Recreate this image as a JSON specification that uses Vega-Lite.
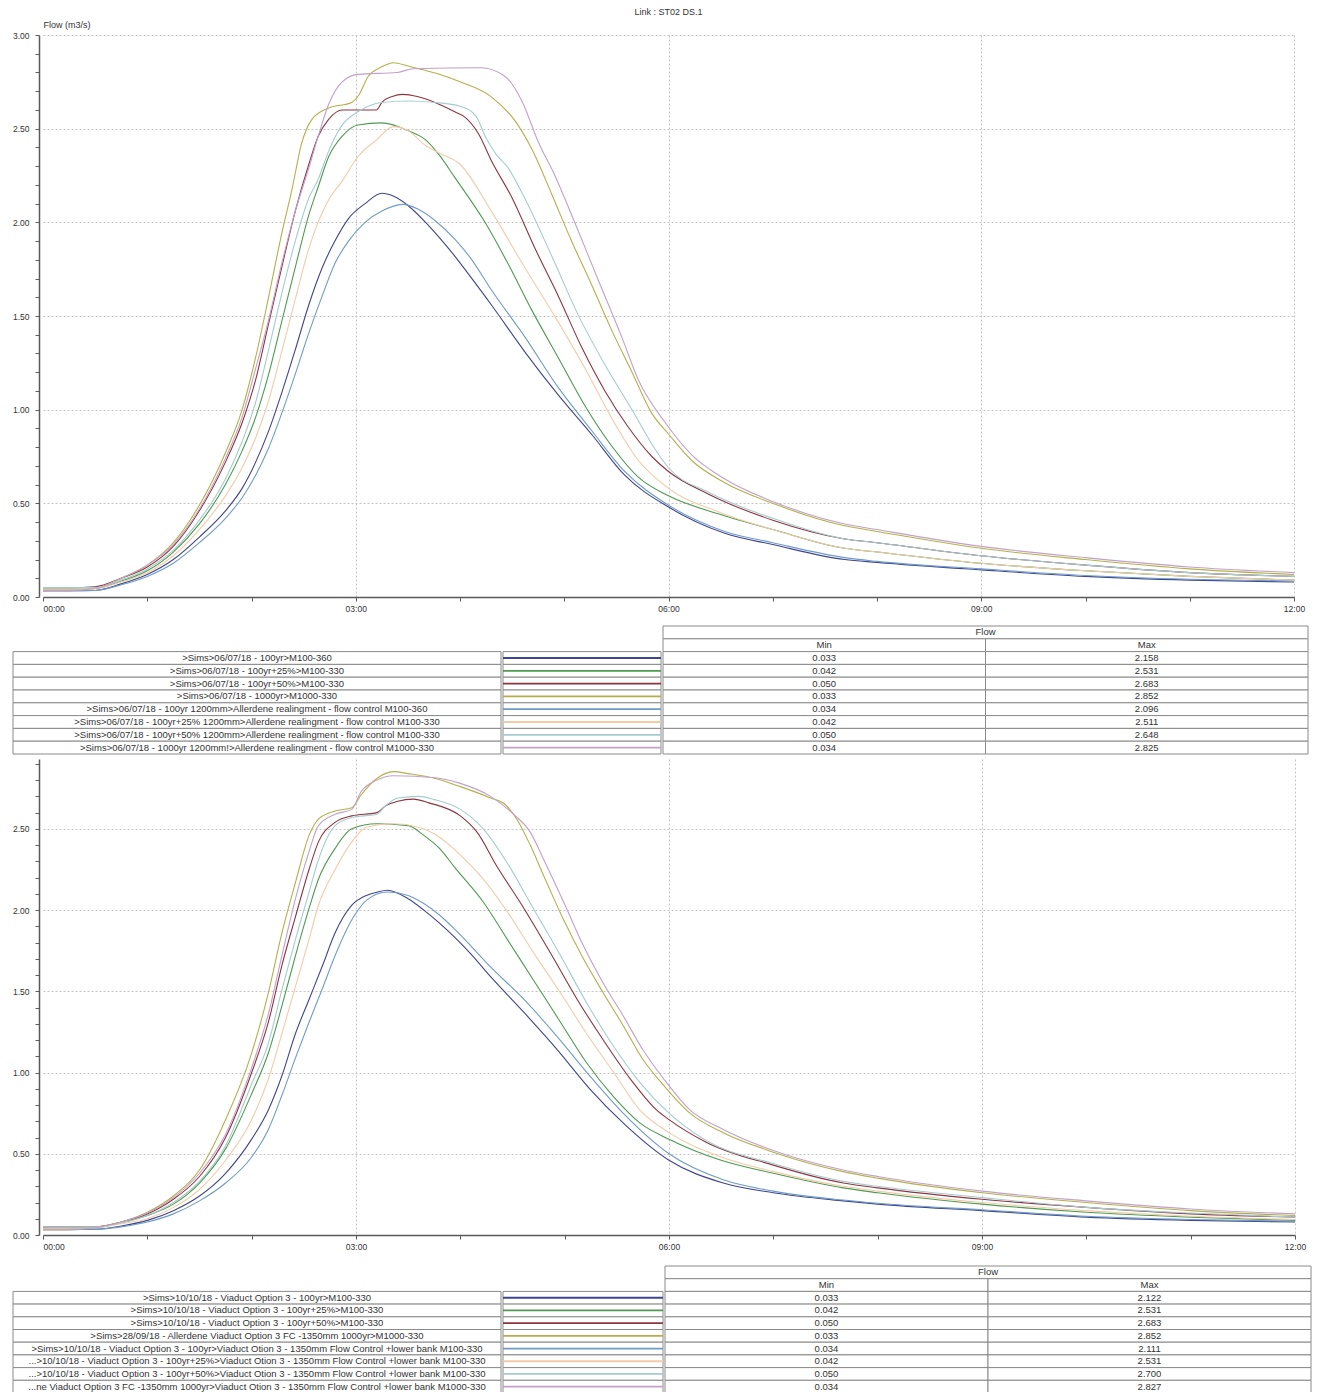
{
"$schema":"https://vega.github.io/schema/vega-lite/v6.json",
"background":"white",
"padding":{"left":12,"top":8,"right":0,"bottom":0},
"config":{
 "font":"Liberation Sans",
 "view":{"stroke":null},
 "axis":{"labelFont":"Liberation Sans","labelFontSize":8.5,"labelColor":"#333","domainColor":"#5a5a5a","domainWidth":1.5,"tickColor":"#5a5a5a","tickWidth":1,"tickSize":4,"gridColor":"#c4c4c4","gridDash":[2,2],"gridWidth":1,"titleFont":"Liberation Sans","titleFontSize":9,"titleFontWeight":"normal","titleColor":"#333","labelOverlap":false,"labelBound":false,"labelFlush":false},
 "title":{"font":"Liberation Sans","fontSize":9,"fontWeight":"normal","color":"#333","offset":3},
 "text":{"font":"Liberation Sans","fontSize":9.5,"color":"#333"}
},
"datasets":{
"top":[
{"s":1,"h":0,"v":0.033},{"s":1,"h":0.25,"v":0.033},{"s":1,"h":0.5,"v":0.035},{"s":1,"h":0.75,"v":0.07},{"s":1,"h":1,"v":0.12},{"s":1,"h":1.25,"v":0.2},{"s":1,"h":1.5,"v":0.32},{"s":1,"h":1.75,"v":0.46},{"s":1,"h":1.91,"v":0.58},{"s":1,"h":2.04,"v":0.72},{"s":1,"h":2.16,"v":0.88},{"s":1,"h":2.29,"v":1.09},{"s":1,"h":2.42,"v":1.32},{"s":1,"h":2.55,"v":1.56},{"s":1,"h":2.68,"v":1.76},{"s":1,"h":2.8,"v":1.9},{"s":1,"h":2.93,"v":2.02},{"s":1,"h":3.09,"v":2.1},{"s":1,"h":3.25,"v":2.155},{"s":1,"h":3.36,"v":2.14},{"s":1,"h":3.5,"v":2.09},{"s":1,"h":3.67,"v":2.0},{"s":1,"h":3.8,"v":1.92},{"s":1,"h":3.95,"v":1.82},{"s":1,"h":4.1,"v":1.71},{"s":1,"h":4.3,"v":1.56},{"s":1,"h":4.62,"v":1.31},{"s":1,"h":4.94,"v":1.08},{"s":1,"h":5.26,"v":0.87},{"s":1,"h":5.58,"v":0.65},{"s":1,"h":6,"v":0.48},{"s":1,"h":6.54,"v":0.34},{"s":1,"h":7,"v":0.28},{"s":1,"h":7.69,"v":0.2},{"s":1,"h":8,"v":0.185},{"s":1,"h":9,"v":0.145},{"s":1,"h":10,"v":0.11},{"s":1,"h":11,"v":0.09},{"s":1,"h":12,"v":0.08},
{"s":2,"h":0,"v":0.042},{"s":2,"h":0.25,"v":0.042},{"s":2,"h":0.5,"v":0.045},{"s":2,"h":0.75,"v":0.085},{"s":2,"h":1,"v":0.14},{"s":2,"h":1.25,"v":0.24},{"s":2,"h":1.5,"v":0.39},{"s":2,"h":1.75,"v":0.6},{"s":2,"h":1.91,"v":0.78},{"s":2,"h":2.04,"v":0.96},{"s":2,"h":2.16,"v":1.18},{"s":2,"h":2.29,"v":1.47},{"s":2,"h":2.42,"v":1.76},{"s":2,"h":2.55,"v":2.04},{"s":2,"h":2.64,"v":2.19},{"s":2,"h":2.74,"v":2.35},{"s":2,"h":2.87,"v":2.46},{"s":2,"h":3.02,"v":2.52},{"s":2,"h":3.25,"v":2.531},{"s":2,"h":3.5,"v":2.49},{"s":2,"h":3.67,"v":2.44},{"s":2,"h":3.8,"v":2.36},{"s":2,"h":3.95,"v":2.24},{"s":2,"h":4.24,"v":2.0},{"s":2,"h":4.46,"v":1.78},{"s":2,"h":4.69,"v":1.53},{"s":2,"h":4.94,"v":1.28},{"s":2,"h":5.2,"v":1.02},{"s":2,"h":5.45,"v":0.81},{"s":2,"h":5.71,"v":0.64},{"s":2,"h":6,"v":0.54},{"s":2,"h":6.5,"v":0.44},{"s":2,"h":7,"v":0.36},{"s":2,"h":7.69,"v":0.26},{"s":2,"h":8,"v":0.24},{"s":2,"h":9,"v":0.18},{"s":2,"h":10,"v":0.14},{"s":2,"h":11,"v":0.11},{"s":2,"h":12,"v":0.09},
{"s":3,"h":0,"v":0.05},{"s":3,"h":0.25,"v":0.05},{"s":3,"h":0.5,"v":0.055},{"s":3,"h":0.75,"v":0.1},{"s":3,"h":1,"v":0.16},{"s":3,"h":1.25,"v":0.27},{"s":3,"h":1.5,"v":0.46},{"s":3,"h":1.75,"v":0.72},{"s":3,"h":1.91,"v":0.93},{"s":3,"h":2.04,"v":1.16},{"s":3,"h":2.16,"v":1.45},{"s":3,"h":2.29,"v":1.76},{"s":3,"h":2.42,"v":2.06},{"s":3,"h":2.55,"v":2.31},{"s":3,"h":2.64,"v":2.46},{"s":3,"h":2.74,"v":2.55},{"s":3,"h":2.87,"v":2.6},{"s":3,"h":3.2,"v":2.6},{"s":3,"h":3.25,"v":2.64},{"s":3,"h":3.35,"v":2.672},{"s":3,"h":3.45,"v":2.683},{"s":3,"h":3.6,"v":2.67},{"s":3,"h":3.76,"v":2.64},{"s":3,"h":3.95,"v":2.59},{"s":3,"h":4.05,"v":2.56},{"s":3,"h":4.18,"v":2.47},{"s":3,"h":4.3,"v":2.33},{"s":3,"h":4.5,"v":2.13},{"s":3,"h":4.72,"v":1.86},{"s":3,"h":4.94,"v":1.61},{"s":3,"h":5.17,"v":1.33},{"s":3,"h":5.39,"v":1.1},{"s":3,"h":5.61,"v":0.91},{"s":3,"h":5.84,"v":0.75},{"s":3,"h":6,"v":0.67},{"s":3,"h":6.38,"v":0.55},{"s":3,"h":7,"v":0.41},{"s":3,"h":7.69,"v":0.31},{"s":3,"h":8,"v":0.29},{"s":3,"h":9,"v":0.22},{"s":3,"h":10,"v":0.17},{"s":3,"h":11,"v":0.13},{"s":3,"h":12,"v":0.11},
{"s":4,"h":0,"v":0.033},{"s":4,"h":0.25,"v":0.033},{"s":4,"h":0.5,"v":0.045},{"s":4,"h":0.75,"v":0.1},{"s":4,"h":1,"v":0.17},{"s":4,"h":1.25,"v":0.29},{"s":4,"h":1.5,"v":0.49},{"s":4,"h":1.75,"v":0.77},{"s":4,"h":1.91,"v":1.0},{"s":4,"h":2.04,"v":1.28},{"s":4,"h":2.16,"v":1.59},{"s":4,"h":2.29,"v":1.94},{"s":4,"h":2.39,"v":2.18},{"s":4,"h":2.48,"v":2.42},{"s":4,"h":2.58,"v":2.55},{"s":4,"h":2.74,"v":2.61},{"s":4,"h":2.96,"v":2.64},{"s":4,"h":3.03,"v":2.68},{"s":4,"h":3.12,"v":2.78},{"s":4,"h":3.25,"v":2.83},{"s":4,"h":3.36,"v":2.852},{"s":4,"h":3.5,"v":2.835},{"s":4,"h":3.67,"v":2.81},{"s":4,"h":3.8,"v":2.79},{"s":4,"h":4,"v":2.75},{"s":4,"h":4.3,"v":2.67},{"s":4,"h":4.53,"v":2.54},{"s":4,"h":4.69,"v":2.39},{"s":4,"h":4.88,"v":2.15},{"s":4,"h":5.07,"v":1.9},{"s":4,"h":5.26,"v":1.67},{"s":4,"h":5.45,"v":1.43},{"s":4,"h":5.65,"v":1.2},{"s":4,"h":5.84,"v":0.98},{"s":4,"h":6,"v":0.87},{"s":4,"h":6.22,"v":0.73},{"s":4,"h":6.54,"v":0.61},{"s":4,"h":7,"v":0.5},{"s":4,"h":7.69,"v":0.38},{"s":4,"h":8,"v":0.35},{"s":4,"h":9,"v":0.26},{"s":4,"h":10,"v":0.2},{"s":4,"h":11,"v":0.15},{"s":4,"h":12,"v":0.12},
{"s":5,"h":0,"v":0.034},{"s":5,"h":0.25,"v":0.034},{"s":5,"h":0.5,"v":0.035},{"s":5,"h":0.75,"v":0.065},{"s":5,"h":1,"v":0.11},{"s":5,"h":1.25,"v":0.18},{"s":5,"h":1.5,"v":0.29},{"s":5,"h":1.75,"v":0.42},{"s":5,"h":1.91,"v":0.53},{"s":5,"h":2.04,"v":0.65},{"s":5,"h":2.16,"v":0.79},{"s":5,"h":2.29,"v":0.98},{"s":5,"h":2.42,"v":1.19},{"s":5,"h":2.55,"v":1.41},{"s":5,"h":2.68,"v":1.61},{"s":5,"h":2.8,"v":1.78},{"s":5,"h":2.93,"v":1.9},{"s":5,"h":3.09,"v":2.0},{"s":5,"h":3.25,"v":2.06},{"s":5,"h":3.45,"v":2.096},{"s":5,"h":3.6,"v":2.07},{"s":5,"h":3.76,"v":2.01},{"s":5,"h":3.95,"v":1.91},{"s":5,"h":4.1,"v":1.81},{"s":5,"h":4.3,"v":1.64},{"s":5,"h":4.62,"v":1.39},{"s":5,"h":4.94,"v":1.12},{"s":5,"h":5.26,"v":0.89},{"s":5,"h":5.58,"v":0.67},{"s":5,"h":6,"v":0.49},{"s":5,"h":6.54,"v":0.35},{"s":5,"h":7,"v":0.29},{"s":5,"h":7.69,"v":0.21},{"s":5,"h":8,"v":0.19},{"s":5,"h":9,"v":0.15},{"s":5,"h":10,"v":0.115},{"s":5,"h":11,"v":0.095},{"s":5,"h":12,"v":0.085},
{"s":6,"h":0,"v":0.042},{"s":6,"h":0.25,"v":0.042},{"s":6,"h":0.5,"v":0.045},{"s":6,"h":0.75,"v":0.08},{"s":6,"h":1,"v":0.13},{"s":6,"h":1.25,"v":0.22},{"s":6,"h":1.5,"v":0.36},{"s":6,"h":1.75,"v":0.54},{"s":6,"h":1.91,"v":0.69},{"s":6,"h":2.04,"v":0.85},{"s":6,"h":2.16,"v":1.04},{"s":6,"h":2.29,"v":1.31},{"s":6,"h":2.42,"v":1.59},{"s":6,"h":2.55,"v":1.86},{"s":6,"h":2.74,"v":2.12},{"s":6,"h":2.87,"v":2.22},{"s":6,"h":3.02,"v":2.35},{"s":6,"h":3.2,"v":2.44},{"s":6,"h":3.36,"v":2.511},{"s":6,"h":3.5,"v":2.49},{"s":6,"h":3.67,"v":2.41},{"s":6,"h":3.8,"v":2.37},{"s":6,"h":4,"v":2.31},{"s":6,"h":4.3,"v":2.06},{"s":6,"h":4.62,"v":1.76},{"s":6,"h":4.94,"v":1.47},{"s":6,"h":5.2,"v":1.22},{"s":6,"h":5.45,"v":0.96},{"s":6,"h":5.71,"v":0.73},{"s":6,"h":6,"v":0.58},{"s":6,"h":6.5,"v":0.45},{"s":6,"h":7,"v":0.36},{"s":6,"h":7.69,"v":0.26},{"s":6,"h":8,"v":0.24},{"s":6,"h":9,"v":0.18},{"s":6,"h":10,"v":0.14},{"s":6,"h":11,"v":0.11},{"s":6,"h":12,"v":0.09},
{"s":7,"h":0,"v":0.05},{"s":7,"h":0.25,"v":0.05},{"s":7,"h":0.5,"v":0.05},{"s":7,"h":0.75,"v":0.09},{"s":7,"h":1,"v":0.15},{"s":7,"h":1.25,"v":0.25},{"s":7,"h":1.5,"v":0.41},{"s":7,"h":1.75,"v":0.63},{"s":7,"h":1.91,"v":0.83},{"s":7,"h":2.04,"v":1.04},{"s":7,"h":2.16,"v":1.31},{"s":7,"h":2.29,"v":1.62},{"s":7,"h":2.42,"v":1.9},{"s":7,"h":2.55,"v":2.13},{"s":7,"h":2.64,"v":2.23},{"s":7,"h":2.74,"v":2.38},{"s":7,"h":2.87,"v":2.52},{"s":7,"h":3.02,"v":2.59},{"s":7,"h":3.25,"v":2.64},{"s":7,"h":3.5,"v":2.648},{"s":7,"h":3.76,"v":2.64},{"s":7,"h":4,"v":2.62},{"s":7,"h":4.15,"v":2.57},{"s":7,"h":4.25,"v":2.45},{"s":7,"h":4.35,"v":2.36},{"s":7,"h":4.45,"v":2.3},{"s":7,"h":4.62,"v":2.13},{"s":7,"h":4.88,"v":1.82},{"s":7,"h":5.13,"v":1.51},{"s":7,"h":5.39,"v":1.24},{"s":7,"h":5.65,"v":1.0},{"s":7,"h":5.87,"v":0.79},{"s":7,"h":6,"v":0.69},{"s":7,"h":6.38,"v":0.56},{"s":7,"h":7,"v":0.42},{"s":7,"h":7.69,"v":0.31},{"s":7,"h":8,"v":0.29},{"s":7,"h":9,"v":0.22},{"s":7,"h":10,"v":0.17},{"s":7,"h":11,"v":0.13},{"s":7,"h":12,"v":0.11},
{"s":8,"h":0,"v":0.034},{"s":8,"h":0.25,"v":0.034},{"s":8,"h":0.5,"v":0.045},{"s":8,"h":0.75,"v":0.1},{"s":8,"h":1,"v":0.17},{"s":8,"h":1.25,"v":0.28},{"s":8,"h":1.5,"v":0.47},{"s":8,"h":1.75,"v":0.74},{"s":8,"h":1.91,"v":0.96},{"s":8,"h":2.04,"v":1.22},{"s":8,"h":2.16,"v":1.47},{"s":8,"h":2.29,"v":1.78},{"s":8,"h":2.42,"v":2.06},{"s":8,"h":2.55,"v":2.29},{"s":8,"h":2.64,"v":2.46},{"s":8,"h":2.74,"v":2.63},{"s":8,"h":2.87,"v":2.75},{"s":8,"h":3.02,"v":2.79},{"s":8,"h":3.4,"v":2.8},{"s":8,"h":3.55,"v":2.82},{"s":8,"h":4.2,"v":2.825},{"s":8,"h":4.43,"v":2.78},{"s":8,"h":4.6,"v":2.64},{"s":8,"h":4.75,"v":2.43},{"s":8,"h":4.91,"v":2.25},{"s":8,"h":5.1,"v":2.0},{"s":8,"h":5.32,"v":1.7},{"s":8,"h":5.55,"v":1.39},{"s":8,"h":5.71,"v":1.16},{"s":8,"h":5.97,"v":0.93},{"s":8,"h":6.22,"v":0.76},{"s":8,"h":6.54,"v":0.63},{"s":8,"h":7,"v":0.51},{"s":8,"h":7.69,"v":0.39},{"s":8,"h":8,"v":0.36},{"s":8,"h":9,"v":0.27},{"s":8,"h":10,"v":0.21},{"s":8,"h":11,"v":0.16},{"s":8,"h":12,"v":0.13}
],
"bot":[
{"s":1,"h":0,"v":0.033},{"s":1,"h":0.25,"v":0.033},{"s":1,"h":0.5,"v":0.035},{"s":1,"h":0.75,"v":0.055},{"s":1,"h":1,"v":0.09},{"s":1,"h":1.25,"v":0.15},{"s":1,"h":1.5,"v":0.24},{"s":1,"h":1.75,"v":0.38},{"s":1,"h":2,"v":0.59},{"s":1,"h":2.16,"v":0.77},{"s":1,"h":2.29,"v":0.98},{"s":1,"h":2.42,"v":1.24},{"s":1,"h":2.55,"v":1.45},{"s":1,"h":2.68,"v":1.66},{"s":1,"h":2.8,"v":1.86},{"s":1,"h":2.96,"v":2.03},{"s":1,"h":3.1,"v":2.09},{"s":1,"h":3.2,"v":2.11},{"s":1,"h":3.3,"v":2.122},{"s":1,"h":3.5,"v":2.07},{"s":1,"h":3.65,"v":2.0},{"s":1,"h":3.8,"v":1.92},{"s":1,"h":3.95,"v":1.83},{"s":1,"h":4.1,"v":1.73},{"s":1,"h":4.29,"v":1.59},{"s":1,"h":4.61,"v":1.37},{"s":1,"h":4.93,"v":1.14},{"s":1,"h":5.24,"v":0.9},{"s":1,"h":5.56,"v":0.69},{"s":1,"h":6,"v":0.46},{"s":1,"h":6.52,"v":0.32},{"s":1,"h":7,"v":0.26},{"s":1,"h":7.67,"v":0.21},{"s":1,"h":8,"v":0.19},{"s":1,"h":9,"v":0.15},{"s":1,"h":10,"v":0.11},{"s":1,"h":11,"v":0.09},{"s":1,"h":12,"v":0.08},
{"s":2,"h":0,"v":0.042},{"s":2,"h":0.25,"v":0.042},{"s":2,"h":0.5,"v":0.045},{"s":2,"h":0.75,"v":0.075},{"s":2,"h":1,"v":0.12},{"s":2,"h":1.25,"v":0.19},{"s":2,"h":1.5,"v":0.32},{"s":2,"h":1.75,"v":0.53},{"s":2,"h":2,"v":0.87},{"s":2,"h":2.16,"v":1.12},{"s":2,"h":2.29,"v":1.41},{"s":2,"h":2.42,"v":1.72},{"s":2,"h":2.55,"v":2.01},{"s":2,"h":2.64,"v":2.19},{"s":2,"h":2.8,"v":2.38},{"s":2,"h":2.96,"v":2.5},{"s":2,"h":3.2,"v":2.531},{"s":2,"h":3.5,"v":2.52},{"s":2,"h":3.65,"v":2.46},{"s":2,"h":3.8,"v":2.38},{"s":2,"h":3.95,"v":2.26},{"s":2,"h":4.22,"v":2.05},{"s":2,"h":4.45,"v":1.82},{"s":2,"h":4.7,"v":1.57},{"s":2,"h":4.96,"v":1.31},{"s":2,"h":5.21,"v":1.06},{"s":2,"h":5.47,"v":0.85},{"s":2,"h":5.72,"v":0.69},{"s":2,"h":6,"v":0.59},{"s":2,"h":6.5,"v":0.46},{"s":2,"h":7,"v":0.38},{"s":2,"h":7.67,"v":0.29},{"s":2,"h":8,"v":0.26},{"s":2,"h":9,"v":0.19},{"s":2,"h":10,"v":0.14},{"s":2,"h":11,"v":0.11},{"s":2,"h":12,"v":0.09},
{"s":3,"h":0,"v":0.05},{"s":3,"h":0.25,"v":0.05},{"s":3,"h":0.5,"v":0.05},{"s":3,"h":0.75,"v":0.08},{"s":3,"h":1,"v":0.13},{"s":3,"h":1.25,"v":0.22},{"s":3,"h":1.5,"v":0.36},{"s":3,"h":1.75,"v":0.6},{"s":3,"h":2,"v":1.0},{"s":3,"h":2.16,"v":1.31},{"s":3,"h":2.29,"v":1.66},{"s":3,"h":2.42,"v":1.96},{"s":3,"h":2.55,"v":2.25},{"s":3,"h":2.64,"v":2.42},{"s":3,"h":2.8,"v":2.54},{"s":3,"h":2.96,"v":2.58},{"s":3,"h":3.2,"v":2.6},{"s":3,"h":3.28,"v":2.64},{"s":3,"h":3.4,"v":2.67},{"s":3,"h":3.55,"v":2.683},{"s":3,"h":3.7,"v":2.66},{"s":3,"h":4,"v":2.58},{"s":3,"h":4.16,"v":2.48},{"s":3,"h":4.35,"v":2.27},{"s":3,"h":4.61,"v":2.01},{"s":3,"h":4.86,"v":1.74},{"s":3,"h":5.12,"v":1.45},{"s":3,"h":5.37,"v":1.2},{"s":3,"h":5.63,"v":0.96},{"s":3,"h":5.88,"v":0.77},{"s":3,"h":6,"v":0.71},{"s":3,"h":6.36,"v":0.57},{"s":3,"h":7,"v":0.43},{"s":3,"h":7.67,"v":0.32},{"s":3,"h":8,"v":0.29},{"s":3,"h":9,"v":0.22},{"s":3,"h":10,"v":0.17},{"s":3,"h":11,"v":0.13},{"s":3,"h":12,"v":0.11},
{"s":4,"h":0,"v":0.033},{"s":4,"h":0.25,"v":0.033},{"s":4,"h":0.5,"v":0.045},{"s":4,"h":0.75,"v":0.08},{"s":4,"h":1,"v":0.14},{"s":4,"h":1.25,"v":0.24},{"s":4,"h":1.5,"v":0.4},{"s":4,"h":1.75,"v":0.71},{"s":4,"h":2,"v":1.12},{"s":4,"h":2.16,"v":1.49},{"s":4,"h":2.29,"v":1.86},{"s":4,"h":2.42,"v":2.17},{"s":4,"h":2.55,"v":2.46},{"s":4,"h":2.64,"v":2.56},{"s":4,"h":2.8,"v":2.61},{"s":4,"h":2.96,"v":2.63},{"s":4,"h":3.05,"v":2.71},{"s":4,"h":3.2,"v":2.81},{"s":4,"h":3.36,"v":2.852},{"s":4,"h":3.5,"v":2.84},{"s":4,"h":3.76,"v":2.81},{"s":4,"h":4,"v":2.76},{"s":4,"h":4.29,"v":2.69},{"s":4,"h":4.43,"v":2.65},{"s":4,"h":4.55,"v":2.55},{"s":4,"h":4.67,"v":2.4},{"s":4,"h":4.8,"v":2.21},{"s":4,"h":4.99,"v":1.94},{"s":4,"h":5.18,"v":1.7},{"s":4,"h":5.37,"v":1.49},{"s":4,"h":5.56,"v":1.29},{"s":4,"h":5.75,"v":1.08},{"s":4,"h":5.95,"v":0.92},{"s":4,"h":6.2,"v":0.75},{"s":4,"h":6.52,"v":0.63},{"s":4,"h":7,"v":0.51},{"s":4,"h":7.67,"v":0.39},{"s":4,"h":8,"v":0.35},{"s":4,"h":9,"v":0.26},{"s":4,"h":10,"v":0.2},{"s":4,"h":11,"v":0.15},{"s":4,"h":12,"v":0.12},
{"s":5,"h":0,"v":0.034},{"s":5,"h":0.25,"v":0.034},{"s":5,"h":0.5,"v":0.035},{"s":5,"h":0.75,"v":0.05},{"s":5,"h":1,"v":0.08},{"s":5,"h":1.25,"v":0.13},{"s":5,"h":1.5,"v":0.21},{"s":5,"h":1.75,"v":0.32},{"s":5,"h":2,"v":0.48},{"s":5,"h":2.16,"v":0.65},{"s":5,"h":2.29,"v":0.86},{"s":5,"h":2.42,"v":1.09},{"s":5,"h":2.55,"v":1.31},{"s":5,"h":2.68,"v":1.52},{"s":5,"h":2.8,"v":1.72},{"s":5,"h":2.96,"v":1.94},{"s":5,"h":3.1,"v":2.06},{"s":5,"h":3.3,"v":2.111},{"s":5,"h":3.5,"v":2.09},{"s":5,"h":3.65,"v":2.04},{"s":5,"h":3.8,"v":1.97},{"s":5,"h":3.95,"v":1.88},{"s":5,"h":4.1,"v":1.78},{"s":5,"h":4.29,"v":1.65},{"s":5,"h":4.61,"v":1.45},{"s":5,"h":4.93,"v":1.22},{"s":5,"h":5.24,"v":0.98},{"s":5,"h":5.56,"v":0.75},{"s":5,"h":6,"v":0.5},{"s":5,"h":6.52,"v":0.34},{"s":5,"h":7,"v":0.27},{"s":5,"h":7.67,"v":0.215},{"s":5,"h":8,"v":0.195},{"s":5,"h":9,"v":0.155},{"s":5,"h":10,"v":0.115},{"s":5,"h":11,"v":0.095},{"s":5,"h":12,"v":0.085},
{"s":6,"h":0,"v":0.042},{"s":6,"h":0.25,"v":0.042},{"s":6,"h":0.5,"v":0.045},{"s":6,"h":0.75,"v":0.07},{"s":6,"h":1,"v":0.1},{"s":6,"h":1.25,"v":0.17},{"s":6,"h":1.5,"v":0.28},{"s":6,"h":1.75,"v":0.46},{"s":6,"h":2,"v":0.71},{"s":6,"h":2.16,"v":0.96},{"s":6,"h":2.29,"v":1.24},{"s":6,"h":2.42,"v":1.53},{"s":6,"h":2.55,"v":1.82},{"s":6,"h":2.64,"v":2.03},{"s":6,"h":2.8,"v":2.25},{"s":6,"h":2.96,"v":2.42},{"s":6,"h":3.1,"v":2.51},{"s":6,"h":3.36,"v":2.531},{"s":6,"h":3.6,"v":2.51},{"s":6,"h":3.75,"v":2.47},{"s":6,"h":4,"v":2.34},{"s":6,"h":4.22,"v":2.19},{"s":6,"h":4.45,"v":1.99},{"s":6,"h":4.7,"v":1.74},{"s":6,"h":4.96,"v":1.49},{"s":6,"h":5.21,"v":1.24},{"s":6,"h":5.47,"v":1.0},{"s":6,"h":5.72,"v":0.77},{"s":6,"h":6,"v":0.63},{"s":6,"h":6.5,"v":0.48},{"s":6,"h":7,"v":0.39},{"s":6,"h":7.67,"v":0.3},{"s":6,"h":8,"v":0.27},{"s":6,"h":9,"v":0.2},{"s":6,"h":10,"v":0.15},{"s":6,"h":11,"v":0.115},{"s":6,"h":12,"v":0.095},
{"s":7,"h":0,"v":0.05},{"s":7,"h":0.25,"v":0.05},{"s":7,"h":0.5,"v":0.05},{"s":7,"h":0.75,"v":0.075},{"s":7,"h":1,"v":0.12},{"s":7,"h":1.25,"v":0.2},{"s":7,"h":1.5,"v":0.33},{"s":7,"h":1.75,"v":0.55},{"s":7,"h":2,"v":0.93},{"s":7,"h":2.16,"v":1.18},{"s":7,"h":2.29,"v":1.51},{"s":7,"h":2.42,"v":1.82},{"s":7,"h":2.55,"v":2.11},{"s":7,"h":2.64,"v":2.31},{"s":7,"h":2.8,"v":2.52},{"s":7,"h":2.96,"v":2.57},{"s":7,"h":3.2,"v":2.59},{"s":7,"h":3.28,"v":2.64},{"s":7,"h":3.4,"v":2.69},{"s":7,"h":3.6,"v":2.7},{"s":7,"h":3.75,"v":2.68},{"s":7,"h":4,"v":2.62},{"s":7,"h":4.22,"v":2.5},{"s":7,"h":4.45,"v":2.29},{"s":7,"h":4.7,"v":2.01},{"s":7,"h":4.96,"v":1.72},{"s":7,"h":5.21,"v":1.43},{"s":7,"h":5.47,"v":1.16},{"s":7,"h":5.72,"v":0.94},{"s":7,"h":6,"v":0.75},{"s":7,"h":6.36,"v":0.58},{"s":7,"h":7,"v":0.44},{"s":7,"h":7.67,"v":0.33},{"s":7,"h":8,"v":0.3},{"s":7,"h":9,"v":0.23},{"s":7,"h":10,"v":0.17},{"s":7,"h":11,"v":0.135},{"s":7,"h":12,"v":0.11},
{"s":8,"h":0,"v":0.034},{"s":8,"h":0.25,"v":0.034},{"s":8,"h":0.5,"v":0.045},{"s":8,"h":0.75,"v":0.08},{"s":8,"h":1,"v":0.135},{"s":8,"h":1.25,"v":0.23},{"s":8,"h":1.5,"v":0.38},{"s":8,"h":1.75,"v":0.62},{"s":8,"h":2,"v":1.03},{"s":8,"h":2.16,"v":1.36},{"s":8,"h":2.29,"v":1.72},{"s":8,"h":2.42,"v":2.07},{"s":8,"h":2.55,"v":2.36},{"s":8,"h":2.64,"v":2.52},{"s":8,"h":2.8,"v":2.59},{"s":8,"h":2.96,"v":2.62},{"s":8,"h":3.05,"v":2.73},{"s":8,"h":3.2,"v":2.8},{"s":8,"h":3.36,"v":2.827},{"s":8,"h":3.76,"v":2.815},{"s":8,"h":4,"v":2.78},{"s":8,"h":4.29,"v":2.7},{"s":8,"h":4.51,"v":2.59},{"s":8,"h":4.67,"v":2.48},{"s":8,"h":4.8,"v":2.31},{"s":8,"h":4.99,"v":2.05},{"s":8,"h":5.18,"v":1.78},{"s":8,"h":5.37,"v":1.55},{"s":8,"h":5.56,"v":1.35},{"s":8,"h":5.75,"v":1.14},{"s":8,"h":5.95,"v":0.96},{"s":8,"h":6.2,"v":0.77},{"s":8,"h":6.52,"v":0.65},{"s":8,"h":7,"v":0.52},{"s":8,"h":7.67,"v":0.4},{"s":8,"h":8,"v":0.36},{"s":8,"h":9,"v":0.27},{"s":8,"h":10,"v":0.21},{"s":8,"h":11,"v":0.16},{"s":8,"h":12,"v":0.13}
],
"ttop":[
{"row":"r1","s":1,"name":">Sims>06/07/18 - 100yr>M100-360","Min":"0.033","Max":"2.158"},
{"row":"r2","s":2,"name":">Sims>06/07/18 - 100yr+25%>M100-330","Min":"0.042","Max":"2.531"},
{"row":"r3","s":3,"name":">Sims>06/07/18 - 100yr+50%>M100-330","Min":"0.050","Max":"2.683"},
{"row":"r4","s":4,"name":">Sims>06/07/18 - 1000yr>M1000-330","Min":"0.033","Max":"2.852"},
{"row":"r5","s":5,"name":">Sims>06/07/18 - 100yr 1200mm>Allerdene realingment - flow control M100-360","Min":"0.034","Max":"2.096"},
{"row":"r6","s":6,"name":">Sims>06/07/18 - 100yr+25% 1200mm>Allerdene realingment - flow control M100-330","Min":"0.042","Max":"2.511"},
{"row":"r7","s":7,"name":">Sims>06/07/18 - 100yr+50% 1200mm>Allerdene realingment - flow control M100-330","Min":"0.050","Max":"2.648"},
{"row":"r8","s":8,"name":">Sims>06/07/18 - 1000yr 1200mm!>Allerdene realingment - flow control M1000-330","Min":"0.034","Max":"2.825"}
],
"tbot":[
{"row":"r1","s":1,"name":">Sims>10/10/18 - Viaduct Option 3 - 100yr>M100-330","Min":"0.033","Max":"2.122"},
{"row":"r2","s":2,"name":">Sims>10/10/18 - Viaduct Option 3 - 100yr+25%>M100-330","Min":"0.042","Max":"2.531"},
{"row":"r3","s":3,"name":">Sims>10/10/18 - Viaduct Option 3 - 100yr+50%>M100-330","Min":"0.050","Max":"2.683"},
{"row":"r4","s":4,"name":">Sims>28/09/18 - Allerdene Viaduct Option 3 FC -1350mm 1000yr>M1000-330","Min":"0.033","Max":"2.852"},
{"row":"r5","s":5,"name":">Sims>10/10/18 - Viaduct Option 3 - 100yr>Viaduct Otion 3 - 1350mm Flow Control +lower bank M100-330","Min":"0.034","Max":"2.111"},
{"row":"r6","s":6,"name":"...>10/10/18 - Viaduct Option 3 - 100yr+25%>Viaduct Otion 3 - 1350mm Flow Control +lower bank M100-330","Min":"0.042","Max":"2.531"},
{"row":"r7","s":7,"name":"...>10/10/18 - Viaduct Option 3 - 100yr+50%>Viaduct Otion 3 - 1350mm Flow Control +lower bank M100-330","Min":"0.050","Max":"2.700"},
{"row":"r8","s":8,"name":"...ne Viaduct Option 3 FC -1350mm 1000yr>Viaduct Otion 3 - 1350mm Flow Control +lower bank M1000-330","Min":"0.034","Max":"2.827"}
],
"hdr1":[{"row":"h1","txt":"Flow"}],
"hdr2":[{"row":"h2","col":"Min","val":"Min"},{"row":"h2","col":"Max","val":"Max"}]
},
"spacing":4,
"vconcat":[
{"spacing":12,"vconcat":[
 {"spacing":0,"hconcat":[
  {"width":26,"height":562,"data":{"name":"top"},
   "mark":{"type":"point","opacity":0},
   "encoding":{"y":{"field":"v","type":"quantitative","scale":{"domain":[0,3],"nice":false},
     "axis":{"offset":-26,"title":null,"values":[0,0.1,0.2,0.3,0.4,0.5,0.6,0.7,0.8,0.9,1,1.1,1.2,1.3,1.4,1.5,1.6,1.7,1.8,1.9,2,2.1,2.2,2.3,2.4,2.5,2.6,2.7,2.8,2.9,3],"labelExpr":"abs(datum.value*2-round(datum.value*2))<0.001 ? format(datum.value,'.2f') : ''","labelPadding":6,"grid":false}}}},
  {"width":1251,"height":562,
   "title":{"text":"Link : ST02 DS.1"},
   "data":{"name":"top"},
   "mark":{"type":"line","strokeWidth":1.1,"interpolate":"monotone"},
   "encoding":{
    "x":{"field":"h","type":"quantitative","scale":{"domain":[0,12],"nice":false,"zero":false},
      "axis":{"title":null,"values":[0,1,2,3,4,5,6,7,8,9,10,11,12],"labelExpr":"datum.value % 3 === 0 ? (datum.value < 10 ? '0' : '') + datum.value + ':00' : ''","labelAlign":{"condition":{"test":"datum.value === 0","value":"left"},"value":"center"},"labelPadding":3,"grid":true,"gridOpacity":{"condition":{"test":"datum.value % 3 === 0 && datum.value > 0","value":1},"value":0}}},
    "y":{"field":"v","type":"quantitative","scale":{"domain":[0,3],"nice":false},
      "axis":{"title":"Flow (m3/s)","titleAngle":0,"titleAlign":"left","titleBaseline":"bottom","titleX":0,"titleY":-6,"labels":false,"ticks":false,"domain":false,"minExtent":0,"maxExtent":0,"values":[0.5,1,1.5,2,2.5,3],"grid":true}},
    "color":{"field":"s","type":"nominal","scale":{"domain":[1,2,3,4,5,6,7,8],"range":["#3f4590","#4f9a50","#8e3442","#b3b04c","#6f9cc6","#f3cba8","#a3cdcc","#c3a0c8"]},"legend":null}
   }
  }
 ]},
 {"spacing":0,"hconcat":[
  {"width":488,"height":128,"data":{"name":"ttop"},
   "layer":[
    {"mark":{"type":"rect","fill":"white","stroke":"#8a8a8a","strokeWidth":1},
     "encoding":{"y":{"field":"row","type":"nominal","scale":{"domain":["h1","h2","r1","r2","r3","r4","r5","r6","r7","r8"],"paddingInner":0,"paddingOuter":0},"axis":null},"x":{"value":0},"x2":{"value":"width"}}},
    {"mark":{"type":"text"},
     "encoding":{"y":{"field":"row","type":"nominal","axis":null},"text":{"field":"name"}}}
   ]},
  {"width":158,"height":128,"data":{"name":"ttop"},
   "layer":[
    {"mark":{"type":"rect","fill":"white","stroke":"#8a8a8a","strokeWidth":1},
     "encoding":{"y":{"field":"row","type":"nominal","scale":{"domain":["h1","h2","r1","r2","r3","r4","r5","r6","r7","r8"],"paddingInner":0,"paddingOuter":0},"axis":null},"x":{"value":0},"x2":{"value":"width"}}},
    {"mark":{"type":"rule","strokeWidth":1.8},
     "encoding":{"y":{"field":"row","type":"nominal","axis":null,"bandPosition":0.5},"x":{"value":0},"x2":{"value":"width"},
      "color":{"field":"s","type":"nominal","scale":{"domain":[1,2,3,4,5,6,7,8],"range":["#3f4590","#4f9a50","#8e3442","#b3b04c","#6f9cc6","#f3cba8","#a3cdcc","#c3a0c8"]},"legend":null}}}
   ]},
  {"width":645,"height":128,
   "layer":[
    {"data":{"name":"hdr1"},
     "layer":[
      {"mark":{"type":"rect","fill":"white","stroke":"#8a8a8a","strokeWidth":1},
       "encoding":{"y":{"field":"row","type":"nominal","scale":{"domain":["h1","h2","r1","r2","r3","r4","r5","r6","r7","r8"],"paddingInner":0,"paddingOuter":0},"axis":null},"x":{"value":0},"x2":{"value":"width"}}},
      {"mark":{"type":"text"},"encoding":{"y":{"field":"row","type":"nominal","axis":null},"text":{"field":"txt"}}}
     ]},
    {"data":{"name":"hdr2"},
     "layer":[
      {"mark":{"type":"rect","fill":"white","stroke":"#8a8a8a","strokeWidth":1},
       "encoding":{"y":{"field":"row","type":"nominal","axis":null},"x":{"field":"col","type":"nominal","scale":{"domain":["Min","Max"],"paddingInner":0,"paddingOuter":0},"axis":null}}},
      {"mark":{"type":"text"},"encoding":{"y":{"field":"row","type":"nominal","axis":null},"x":{"field":"col","type":"nominal","axis":null},"text":{"field":"val"}}}
     ]},
    {"data":{"name":"ttop"},"transform":[{"fold":["Min","Max"],"as":["col","val"]}],
     "layer":[
      {"mark":{"type":"rect","fill":"white","stroke":"#8a8a8a","strokeWidth":1},
       "encoding":{"y":{"field":"row","type":"nominal","axis":null},"x":{"field":"col","type":"nominal","axis":null}}},
      {"mark":{"type":"text"},"encoding":{"y":{"field":"row","type":"nominal","axis":null},"x":{"field":"col","type":"nominal","axis":null},"text":{"field":"val"}}}
     ]}
   ]}
 ]}
]},
{"spacing":14,"vconcat":[
 {"spacing":0,"hconcat":[
  {"width":26,"height":476,"data":{"name":"bot"},
   "mark":{"type":"point","opacity":0},
   "encoding":{"y":{"field":"v","type":"quantitative","scale":{"domain":[0,2.93],"nice":false},
     "axis":{"offset":-26,"title":null,"values":[0,0.1,0.2,0.3,0.4,0.5,0.6,0.7,0.8,0.9,1,1.1,1.2,1.3,1.4,1.5,1.6,1.7,1.8,1.9,2,2.1,2.2,2.3,2.4,2.5,2.6,2.7,2.8,2.9],"labelExpr":"abs(datum.value*2-round(datum.value*2))<0.001 ? format(datum.value,'.2f') : ''","labelPadding":6,"grid":false}}}},
  {"width":1252,"height":476,
   "data":{"name":"bot"},
   "mark":{"type":"line","strokeWidth":1.1,"interpolate":"monotone"},
   "encoding":{
    "x":{"field":"h","type":"quantitative","scale":{"domain":[0,12],"nice":false,"zero":false},
      "axis":{"title":null,"values":[0,1,2,3,4,5,6,7,8,9,10,11,12],"labelExpr":"datum.value % 3 === 0 ? (datum.value < 10 ? '0' : '') + datum.value + ':00' : ''","labelAlign":{"condition":{"test":"datum.value === 0","value":"left"},"value":"center"},"labelPadding":3,"grid":true,"gridOpacity":{"condition":{"test":"datum.value % 3 === 0 && datum.value > 0","value":1},"value":0}}},
    "y":{"field":"v","type":"quantitative","scale":{"domain":[0,2.93],"nice":false},
      "axis":{"title":null,"labels":false,"ticks":false,"domain":false,"minExtent":0,"maxExtent":0,"values":[0.5,1,1.5,2,2.5],"grid":true}},
    "color":{"field":"s","type":"nominal","scale":{"domain":[1,2,3,4,5,6,7,8],"range":["#3c48b4","#3ea03e","#c43434","#a8ac3c","#7ab4e0","#f7d0b4","#a6d2d2","#d6aae4"]},"legend":null}
   }
  }
 ]},
 {"spacing":0,"hconcat":[
  {"width":488,"height":127,"data":{"name":"tbot"},
   "layer":[
    {"mark":{"type":"rect","fill":"white","stroke":"#8a8a8a","strokeWidth":1},
     "encoding":{"y":{"field":"row","type":"nominal","scale":{"domain":["h1","h2","r1","r2","r3","r4","r5","r6","r7","r8"],"paddingInner":0,"paddingOuter":0},"axis":null},"x":{"value":0},"x2":{"value":"width"}}},
    {"mark":{"type":"text","fontSize":9.5},
     "encoding":{"y":{"field":"row","type":"nominal","axis":null},"text":{"field":"name"}}}
   ]},
  {"width":160,"height":127,"data":{"name":"tbot"},
   "layer":[
    {"mark":{"type":"rect","fill":"white","stroke":"#8a8a8a","strokeWidth":1},
     "encoding":{"y":{"field":"row","type":"nominal","scale":{"domain":["h1","h2","r1","r2","r3","r4","r5","r6","r7","r8"],"paddingInner":0,"paddingOuter":0},"axis":null},"x":{"value":0},"x2":{"value":"width"}}},
    {"mark":{"type":"rule","strokeWidth":1.8},
     "encoding":{"y":{"field":"row","type":"nominal","axis":null,"bandPosition":0.5},"x":{"value":0},"x2":{"value":"width"},
      "color":{"field":"s","type":"nominal","scale":{"domain":[1,2,3,4,5,6,7,8],"range":["#3c48b4","#3ea03e","#c43434","#a8ac3c","#7ab4e0","#f7d0b4","#a6d2d2","#d6aae4"]},"legend":null}}}
   ]},
  {"width":646,"height":127,
   "layer":[
    {"data":{"name":"hdr1"},
     "layer":[
      {"mark":{"type":"rect","fill":"white","stroke":"#8a8a8a","strokeWidth":1},
       "encoding":{"y":{"field":"row","type":"nominal","scale":{"domain":["h1","h2","r1","r2","r3","r4","r5","r6","r7","r8"],"paddingInner":0,"paddingOuter":0},"axis":null},"x":{"value":0},"x2":{"value":"width"}}},
      {"mark":{"type":"text"},"encoding":{"y":{"field":"row","type":"nominal","axis":null},"text":{"field":"txt"}}}
     ]},
    {"data":{"name":"hdr2"},
     "layer":[
      {"mark":{"type":"rect","fill":"white","stroke":"#8a8a8a","strokeWidth":1},
       "encoding":{"y":{"field":"row","type":"nominal","axis":null},"x":{"field":"col","type":"nominal","scale":{"domain":["Min","Max"],"paddingInner":0,"paddingOuter":0},"axis":null}}},
      {"mark":{"type":"text"},"encoding":{"y":{"field":"row","type":"nominal","axis":null},"x":{"field":"col","type":"nominal","axis":null},"text":{"field":"val"}}}
     ]},
    {"data":{"name":"tbot"},"transform":[{"fold":["Min","Max"],"as":["col","val"]}],
     "layer":[
      {"mark":{"type":"rect","fill":"white","stroke":"#8a8a8a","strokeWidth":1},
       "encoding":{"y":{"field":"row","type":"nominal","axis":null},"x":{"field":"col","type":"nominal","axis":null}}},
      {"mark":{"type":"text"},"encoding":{"y":{"field":"row","type":"nominal","axis":null},"x":{"field":"col","type":"nominal","axis":null},"text":{"field":"val"}}}
     ]}
   ]}
 ]}
]}
]
}
